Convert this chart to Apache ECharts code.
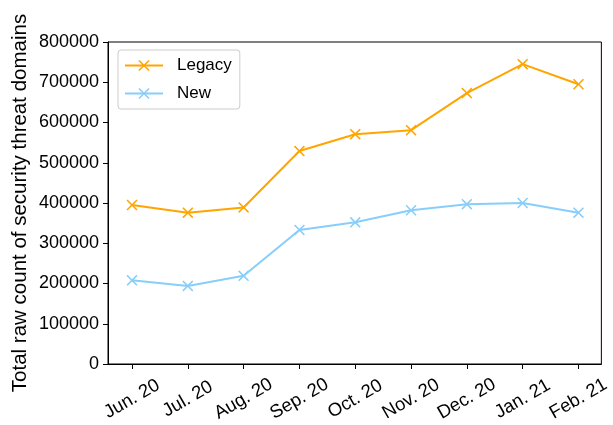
<!DOCTYPE html>
<html>
<head>
    <meta charset="utf-8" />
    <title></title>
    <script type="text/javascript" src="https://cdn.jsdelivr.net/npm/echarts@6/dist/echarts.min.js"></script>
    <style>
        body { margin: 0; background: #fff; }
        #con1 { width: 613px; height: 425px; }
    </style>
</head>
<body>
    <div id="con1"></div>
    <script type="text/javascript">
        var months = ["Jun. 20", "Jul. 20", "Aug. 20", "Sep. 20", "Oct. 20", "Nov. 20", "Dec. 20", "Jan. 21", "Feb. 21"];
        var legacy = [395000, 376000, 389000, 529000, 571000, 581000, 673000, 745000, 695000];
        var newer = [208000, 194000, 219000, 333000, 352000, 382000, 397000, 400000, 376000];
        var yTicks = [0, 100000, 200000, 300000, 400000, 500000, 600000, 700000, 800000];

        function pairs(arr) {
            var out = [];
            for (var i = 0; i < arr.length; i++) {
                out.push([i, arr[i]]);
            }
            return out;
        }
        var idx = months.map(function (m, i) { return i; });

        // "x" marker like matplotlib
        var xMark = 'path://M0,1 L1,0 L5,4 L9,0 L10,1 L6,5 L10,9 L9,10 L5,6 L1,10 L0,9 L4,5 Z';
        var font = 'Liberation Sans, Arial, sans-serif';

        var myChart1 = echarts.init(document.getElementById("con1"));
        var option1 = {
            backgroundColor: '#fff',
            animation: false,
            grid: {
                left: 108,
                top: 42,
                right: 7,
                bottom: 61,
                show: true,
                borderColor: '#000',
                borderWidth: 1
            },
            legend: {
                orient: 'vertical',
                left: 118,
                top: 50,
                padding: [7, 8, 7, 6],
                itemWidth: 38,
                itemHeight: 14,
                itemGap: 11,
                borderColor: '#cccccc',
                borderWidth: 1,
                borderRadius: 3,
                textStyle: { fontSize: 17, color: '#000', fontFamily: font, padding: [0, 0, 0, 9] },
                data: ['Legacy', 'New']
            },
            xAxis: {
                type: 'value',
                min: -0.43,
                max: 8.41,
                splitLine: { show: false },
                axisLine: { onZero: false, lineStyle: { color: '#000', width: 1 } },
                axisTick: { show: true, length: 5, customValues: idx, lineStyle: { color: '#000' } },
                axisLabel: {
                    customValues: idx,
                    rotate: 30,
                    align: 'center',
                    verticalAlign: 'middle',
                    margin: 35,
                    fontSize: 18.5,
                    color: '#000',
                    fontFamily: font,
                    formatter: function (v) { return months[Math.round(v)]; }
                }
            },
            yAxis: {
                type: 'value',
                min: yTicks[0],
                max: yTicks[yTicks.length - 1],
                interval: 100000,
                name: 'Total raw count of security threat domains',
                nameLocation: 'middle',
                nameGap: 77,
                nameMoveOverlap: false,
                nameTextStyle: { fontSize: 20.5, color: '#000', fontFamily: font },
                splitLine: { show: false },
                axisLine: { show: true, onZero: false, lineStyle: { color: '#000', width: 1 } },
                axisTick: { show: true, length: 5, lineStyle: { color: '#000' } },
                axisLabel: {
                    fontSize: 18,
                    color: '#000',
                    fontFamily: font,
                    margin: 9,
                    formatter: function (v) { return String(v); }
                }
            },
            series: [
                {
                    name: 'Legacy',
                    type: 'line',
                    data: pairs(legacy),
                    symbol: xMark,
                    symbolSize: 11,
                    lineStyle: { color: '#FFA500', width: 2 },
                    itemStyle: { color: '#FFA500' }
                },
                {
                    name: 'New',
                    type: 'line',
                    data: pairs(newer),
                    symbol: xMark,
                    symbolSize: 11,
                    lineStyle: { color: '#87CEFA', width: 2 },
                    itemStyle: { color: '#87CEFA' }
                }
            ]
        };
        option1 && myChart1.setOption(option1);
    </script>
</body>
</html>
